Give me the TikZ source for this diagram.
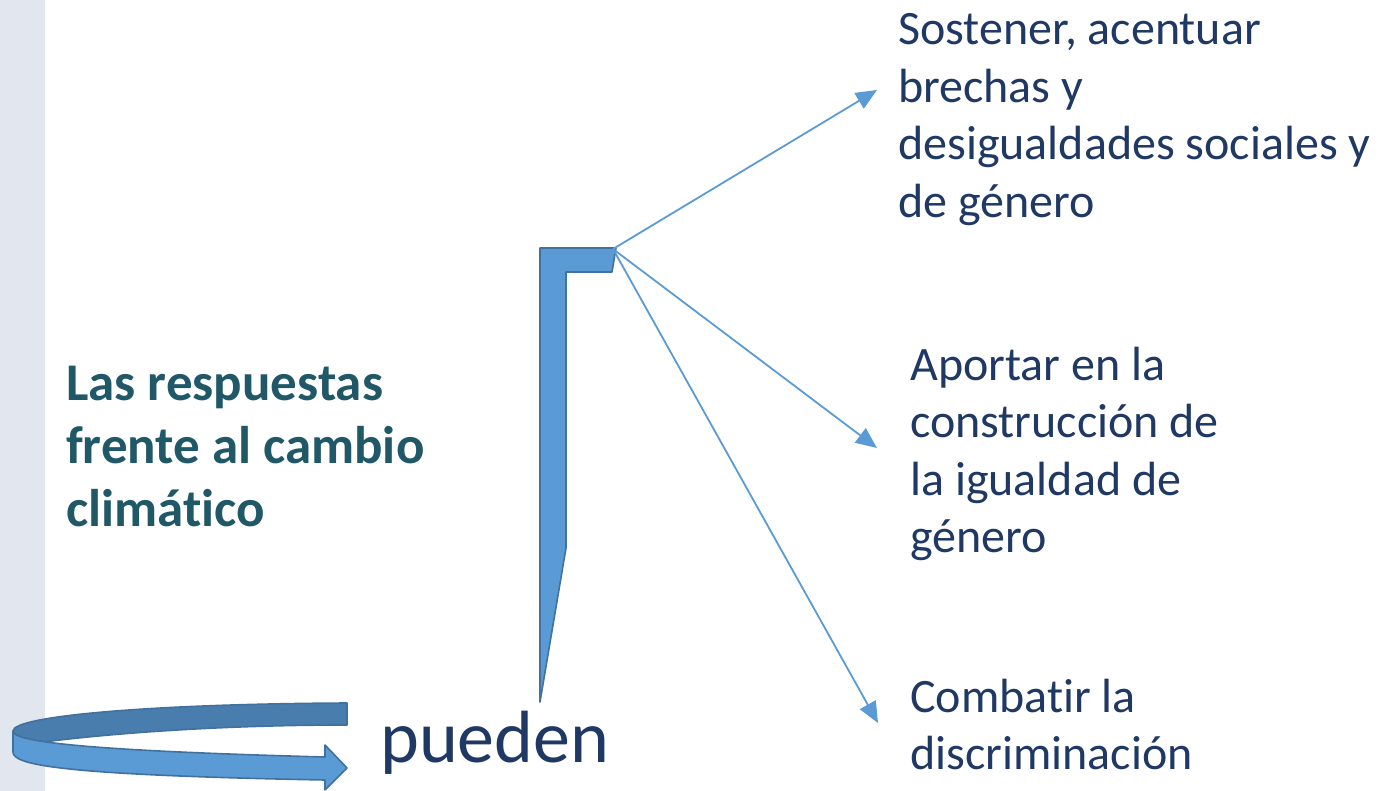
\documentclass[tikz,border=0pt]{standalone}
\usepackage{fontspec}
\setmainfont{Carlito}[Ligatures=NoCommon]
\usetikzlibrary{arrows.meta}
\definecolor{bandgray}{HTML}{E1E6EF}
\definecolor{offblue}{HTML}{5B9BD5}
\definecolor{offedge}{HTML}{41719C}
\definecolor{offdark}{HTML}{487DAE}
\definecolor{navytxt}{HTML}{1F3864}
\definecolor{tealtxt}{HTML}{215868}
\begin{document}
\begin{tikzpicture}[
  x=1pt, y=-1pt,
  txt/.style={anchor=base west, align=left, inner sep=0pt, text=navytxt,
    font=\fontsize{48}{57.5}\selectfont},
  title/.style={anchor=base west, align=left, inner sep=0pt, text=tealtxt,
    font=\fontsize{53}{63}\selectfont\bfseries},
  shapebox/.style={fill=offblue, draw=offedge, line width=1.6pt, line join=round},
  line/.style={-{Triangle[length=21pt,width=18pt]}, draw=offblue, line width=1.8pt}
]
\useasboundingbox (0,0) rectangle (1387,791);
\fill[bandgray] (0,0) rectangle (45,791);

% texts (anchored at the baseline of their last line)
\node[txt] (sostener) at (898,217.5) {Sostener, acentuar\\brechas y\\desigualdades sociales y\\de género};
\node[txt] (aportar) at (910,552.5) {Aportar en la\\construcción de\\la igualdad de\\género};
\node[txt] (combatir) at (910,769.5) {Combatir la\\discriminación};
\node[title] (respuestas) at (66,526) {Las respuestas\\frente al cambio\\climático};
\node[txt, font=\fontsize{74}{80}\selectfont] (pueden) at (380,762) {pueden};

% bent bracket
\draw[shapebox] (540,248) -- (616,248) -- (612,272) -- (566,272) -- (566,548)
  -- (540,702) -- cycle;

% curved arrow
\draw[shapebox, fill=offdark] (347,703) .. controls (150,704) and (13,716) .. (13,731)
  .. controls (13,737) and (25,740) .. (43,742)
  .. controls (140,730) and (250,725) .. (347,725) -- cycle;
\draw[shapebox] (13,731) .. controls (13,740) and (60,750) .. (325,757)
  -- (325,745) -- (347,768) -- (325,790) -- (325,780)
  .. controls (60,775) and (13,765) .. (13,752) -- cycle;

% arrows
\coordinate (elbow) at (613,249);
\coordinate (tipa) at (877,90);
\coordinate (tipb) at (877,448);
\coordinate (tipc) at (878,723);
\draw[line] (elbow) -- (tipa);
\draw[line] (elbow) -- (tipb);
\draw[line] (elbow) -- (tipc);
\end{tikzpicture}
\end{document}
